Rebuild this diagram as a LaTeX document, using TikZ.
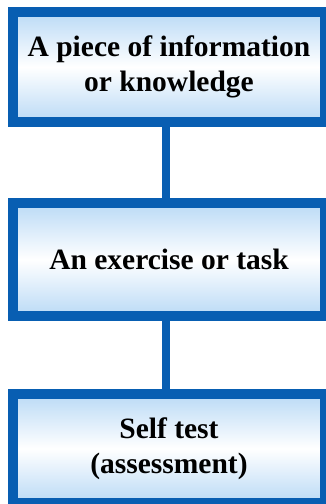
\documentclass[tikz,border=0pt]{standalone}
\usepackage{fontspec}
\setmainfont{Liberation Serif}
\usetikzlibrary{positioning}

\definecolor{boxblue}{RGB}{8,94,178}
\definecolor{paleblue}{RGB}{186,218,246}

\tikzset{
    stagebox/.style={rectangle, draw=boxblue, line width=10pt,
        top color=paleblue, bottom color=paleblue, middle color=white,
        minimum width=312pt, align=center, inner sep=0pt,
        font=\fontsize{29.5}{35}\selectfont\bfseries},
    link/.style={draw=boxblue, line width=8pt}
}

\begin{document}
\begin{tikzpicture}[x=1pt,y=1pt]

    % frame
    \useasboundingbox (0,0) rectangle (325,-504);

    % information
    \node[stagebox, minimum height=110pt] (info) at (169,-67) {A piece of information\\or knowledge};

    % exercise
    \node[stagebox, minimum height=113pt] (task) at (169,-259.5) {An exercise or task};

    % self test
    \node[stagebox, minimum height=109pt] (test) at (169,-448.5) {Self test\\(assessment)};

    % links
    \draw[link] ([xshift=-3pt]info.south) -- ([xshift=-3pt]task.north);
    \draw[link] ([xshift=-3pt]task.south) -- ([xshift=-3pt]test.north);

\end{tikzpicture}
\end{document}
